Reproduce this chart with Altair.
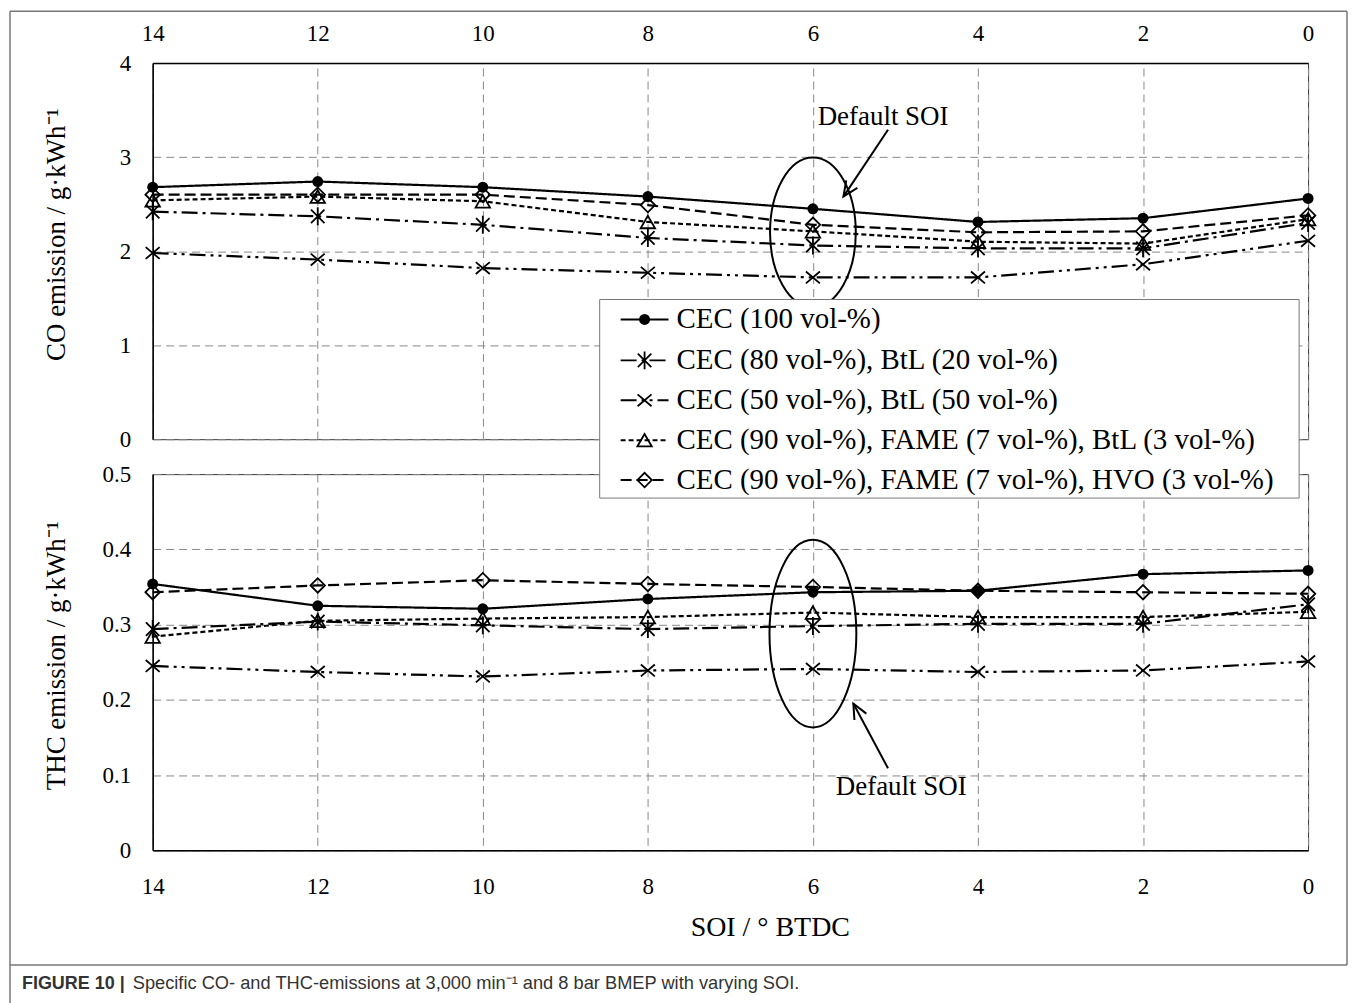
import altair as alt
import pandas as pd

# ---------------- data ----------------
soi = [14, 12, 10, 8, 6, 4, 2, 0]
series_names = [
    "CEC (100 vol-%)",
    "CEC (80 vol-%), BtL (20 vol-%)",
    "CEC (50 vol-%), BtL (50 vol-%)",
    "CEC (90 vol-%), FAME (7 vol-%), BtL (3 vol-%)",
    "CEC (90 vol-%), FAME (7 vol-%), HVO (3 vol-%)",
]

co_cec100 = [2.68, 2.74, 2.68, 2.58, 2.45, 2.31, 2.35, 2.56]
co_btl20 = [2.42, 2.37, 2.28, 2.14, 2.06, 2.03, 2.03, 2.30]
co_btl50 = [1.98, 1.91, 1.82, 1.77, 1.72, 1.72, 1.86, 2.11]
co_fame_btl = [2.54, 2.58, 2.53, 2.31, 2.21, 2.10, 2.08, 2.34]
co_fame_hvo = [2.60, 2.60, 2.60, 2.49, 2.28, 2.20, 2.21, 2.38]

thc_cec100 = [0.354, 0.325, 0.321, 0.334, 0.343, 0.345, 0.367, 0.372]
thc_btl20 = [0.294, 0.304, 0.299, 0.294, 0.298, 0.301, 0.301, 0.327]
thc_btl50 = [0.245, 0.237, 0.231, 0.239, 0.241, 0.237, 0.239, 0.251]
thc_fame_btl = [0.284, 0.305, 0.308, 0.310, 0.316, 0.310, 0.310, 0.317]
thc_fame_hvo = [0.343, 0.352, 0.359, 0.354, 0.350, 0.345, 0.343, 0.341]

co_ticks = [0, 1, 2, 3, 4]
thc_ticks = [0, 0.1, 0.2, 0.3, 0.4, 0.5]

co_title = "CO emission / g·kWh⁻¹"
thc_title = "THC emission / g·kWh⁻¹"
x_title = "SOI / ° BTDC"
annotation_text = "Default SOI"
caption_bold = "FIGURE 10 |"
caption_text = "Specific CO- and THC-emissions at 3,000 min⁻¹ and 8 bar BMEP with varying SOI."

# annotation anchor points (data coordinates: SOI, emission)
co_ellipse = (6, 2.2)
co_arrow = (5.09, 3.29, 5.63, 2.58)
co_label = (5.15, 3.43)
thc_ellipse = (6, 0.288)
thc_arrow = (5.09, 0.109, 5.51, 0.195)
thc_label = (4.93, 0.084)


def long_table(arrays):
    rows = []
    for name, vals in zip(series_names, arrays):
        for s, v in zip(soi, vals):
            rows.append({"soi": s, "series": name, "value": v})
    return pd.DataFrame(rows)


co_df = long_table([co_cec100, co_btl20, co_btl50, co_fame_btl, co_fame_hvo])
thc_df = long_table([thc_cec100, thc_btl20, thc_btl50, thc_fame_btl, thc_fame_hvo])

# ---------------- styles ----------------
ASTER = "M-0.75,-0.75L0.75,0.75M-0.75,0.75L0.75,-0.75M0,-1L0,1"
XSYM = "M-1,-0.85L1,0.85M-1,0.85L1,-0.85"
ARROWHEAD = "M-0.45,1L0,0L0.45,1"


def ellipse_path(a):
    k = 0.5523
    return (f"M0,-1C{k*a:.3f},-1 {a:.3f},{-k:.3f} {a:.3f},0"
            f"C{a:.3f},{k:.3f} {k*a:.3f},1 0,1"
            f"C{-k*a:.3f},1 {-a:.3f},{k:.3f} {-a:.3f},0"
            f"C{-a:.3f},{-k:.3f} {-k*a:.3f},-1 0,-1Z")


styles = [
    {"dash": [1, 0], "shape": "circle", "filled": True, "size": 120},
    {"dash": [16, 5, 3, 5], "shape": ASTER, "filled": False, "size": 324},
    {"dash": [16, 5, 3, 5, 3, 5], "shape": XSYM, "filled": False, "size": 196},
    {"dash": [5, 3], "shape": "triangle-up", "filled": False, "size": 210},
    {"dash": [11, 5], "shape": "diamond", "filled": False, "size": 210},
]

SERIF = "Liberation Serif"
SANS = "Liberation Sans"
W, H = 1158, 377
one = alt.Data(values=[{}])

xscale = alt.Scale(domain=[14, 0], nice=False, zero=False)


def series_layers(df, yscale, x_axis, y_axis):
    lines, points = [], []
    for name, st in zip(series_names, styles):
        sub = df[df["series"] == name]
        enc = dict(
            x=alt.X("soi:Q", scale=xscale, axis=x_axis),
            y=alt.Y("value:Q", scale=yscale, axis=y_axis),
        )
        lines.append(
            alt.Chart(sub).mark_line(color="black", strokeWidth=2.2, strokeDash=st["dash"]).encode(**enc)
        )
        points.append(
            alt.Chart(sub).mark_point(
                shape=st["shape"], filled=st["filled"], size=st["size"],
                color="black", strokeWidth=1.8, opacity=1
            ).encode(**enc)
        )
    return lines + points


def annotation_layers(ell, ell_a, ell_size, arrow, arrow_angle, label):
    ellipse = alt.Chart(one).mark_point(
        shape=ellipse_path(ell_a), size=ell_size, filled=False,
        color="black", strokeWidth=2, opacity=1
    ).encode(x=alt.datum(ell[0]), y=alt.datum(ell[1]))
    rule = alt.Chart(one).mark_rule(color="black", strokeWidth=2).encode(
        x=alt.datum(arrow[0]), y=alt.datum(arrow[1]),
        x2=alt.datum(arrow[2]), y2=alt.datum(arrow[3]),
    )
    head = alt.Chart(one).mark_point(
        shape=ARROWHEAD, size=900, angle=arrow_angle, filled=False,
        color="black", strokeWidth=2, opacity=1
    ).encode(x=alt.datum(arrow[2]), y=alt.datum(arrow[3]))
    text = alt.Chart(one).mark_text(
        font=SERIF, fontSize=27, color="black", align="center", baseline="middle"
    ).encode(x=alt.datum(label[0]), y=alt.datum(label[1]), text=alt.value(annotation_text))
    return [ellipse, rule, head, text]


def pix_text(txt, x, y, size, angle=0, align="center", weight="normal", font=SERIF, color="black"):
    return alt.Chart(one).mark_text(
        font=font, fontSize=size, angle=angle, align=align, baseline="middle",
        fontWeight=weight, color=color
    ).encode(x=alt.value(x), y=alt.value(y), text=alt.value(txt))


def pix_rule(x, y, x2=None, y2=None, color="#777", width=1.5):
    enc = dict(x=alt.value(x), y=alt.value(y))
    if x2 is not None:
        enc["x2"] = alt.value(x2)
    if y2 is not None:
        enc["y2"] = alt.value(y2)
    return alt.Chart(one).mark_rule(color=color, strokeWidth=width).encode(**enc)


# ---------------- top panel (CO) ----------------
co_yscale = alt.Scale(domain=[0, 4], nice=False, zero=False)
top_x_axis = alt.Axis(orient="top", values=soi, title=None, grid=True, labelPadding=18,
                      format="d", labelFlush=False)
top_y_axis = alt.Axis(values=co_ticks, title=None, grid=True, labelPadding=22, format="d")

frame = [
    pix_rule(-143, -52, x2=1197),          # top edge
    pix_rule(-143, -52, y2=985),           # left edge (runs past caption)
    pix_rule(1197, -52, y2=904),           # right edge
    pix_rule(-143, 904, x2=1197),          # bottom edge
]

top_layers = (
    frame
    + series_layers(co_df, co_yscale, top_x_axis, top_y_axis)
    + annotation_layers(co_ellipse, 0.573, 22500, co_arrow, 214, co_label)
    + [pix_text(co_title, -96, 172, 27, angle=270)]
)
top = alt.layer(*top_layers).properties(width=W, height=H)

# ---------------- bottom panel (THC) ----------------
thc_yscale = alt.Scale(domain=[0, 0.5], nice=False, zero=False)
bot_x_axis = alt.Axis(orient="bottom", values=soi, title=None, grid=True, labelPadding=25,
                      format="d", labelFlush=False)
bot_y_axis = alt.Axis(
    values=thc_ticks, title=None, grid=True, labelPadding=22,
    labelExpr="datum.value == 0 ? '0' : format(datum.value, '.1f')",
)

# legend (pixel layout relative to bottom plot area)
legend_layers = [
    alt.Chart(one).mark_rect(fill="white", stroke="#777", strokeWidth=1).encode(
        x=alt.value(448), x2=alt.value(1149), y=alt.value(-175), y2=alt.value(24)
    )
]
row_y = [-155, -114, -74, -34, 6]
for name, st, yy in zip(series_names, styles, row_y):
    legend_layers.append(
        alt.Chart(one).mark_rule(color="black", strokeWidth=2, strokeDash=st["dash"]).encode(
            x=alt.value(469), x2=alt.value(517), y=alt.value(yy)
        )
    )
    legend_layers.append(
        alt.Chart(one).mark_point(
            shape=st["shape"], filled=st["filled"], size=st["size"],
            color="black", strokeWidth=1.8, opacity=1
        ).encode(x=alt.value(493), y=alt.value(yy))
    )
    legend_layers.append(pix_text(name, 525, yy, 29, align="left"))

bottom_layers = (
    series_layers(thc_df, thc_yscale, bot_x_axis, bot_y_axis)
    + annotation_layers(thc_ellipse, 0.463, 35344, thc_arrow, 332, thc_label)
    + [
        pix_text(thc_title, -96, 182, 27, angle=270),
        pix_text(x_title, 619, 455, 28),
        pix_text(caption_bold, -131, 511, 18, align="left", weight="bold", font=SANS, color="#333"),
        pix_text(caption_text, -20, 511, 18.3, align="left", font=SANS, color="#333"),
    ]
    + legend_layers
)
bottom = alt.layer(*bottom_layers).properties(width=W, height=H)

chart = (
    alt.vconcat(top, bottom, spacing=35, bounds="flush")
    .properties(padding=0)
    .configure(font=SERIF)
    .configure_view(stroke="#333", strokeWidth=1)
    .configure_axis(
        labelFont=SERIF, labelFontSize=23, labelColor="black",
        domainColor="black", domainWidth=1.5,
        gridColor="#888", gridDash=[8, 5], gridWidth=1,
        ticks=False, tickSize=0,
    )
)

chart.save("out.html", embed_options={"renderer": "svg", "actions": False})
